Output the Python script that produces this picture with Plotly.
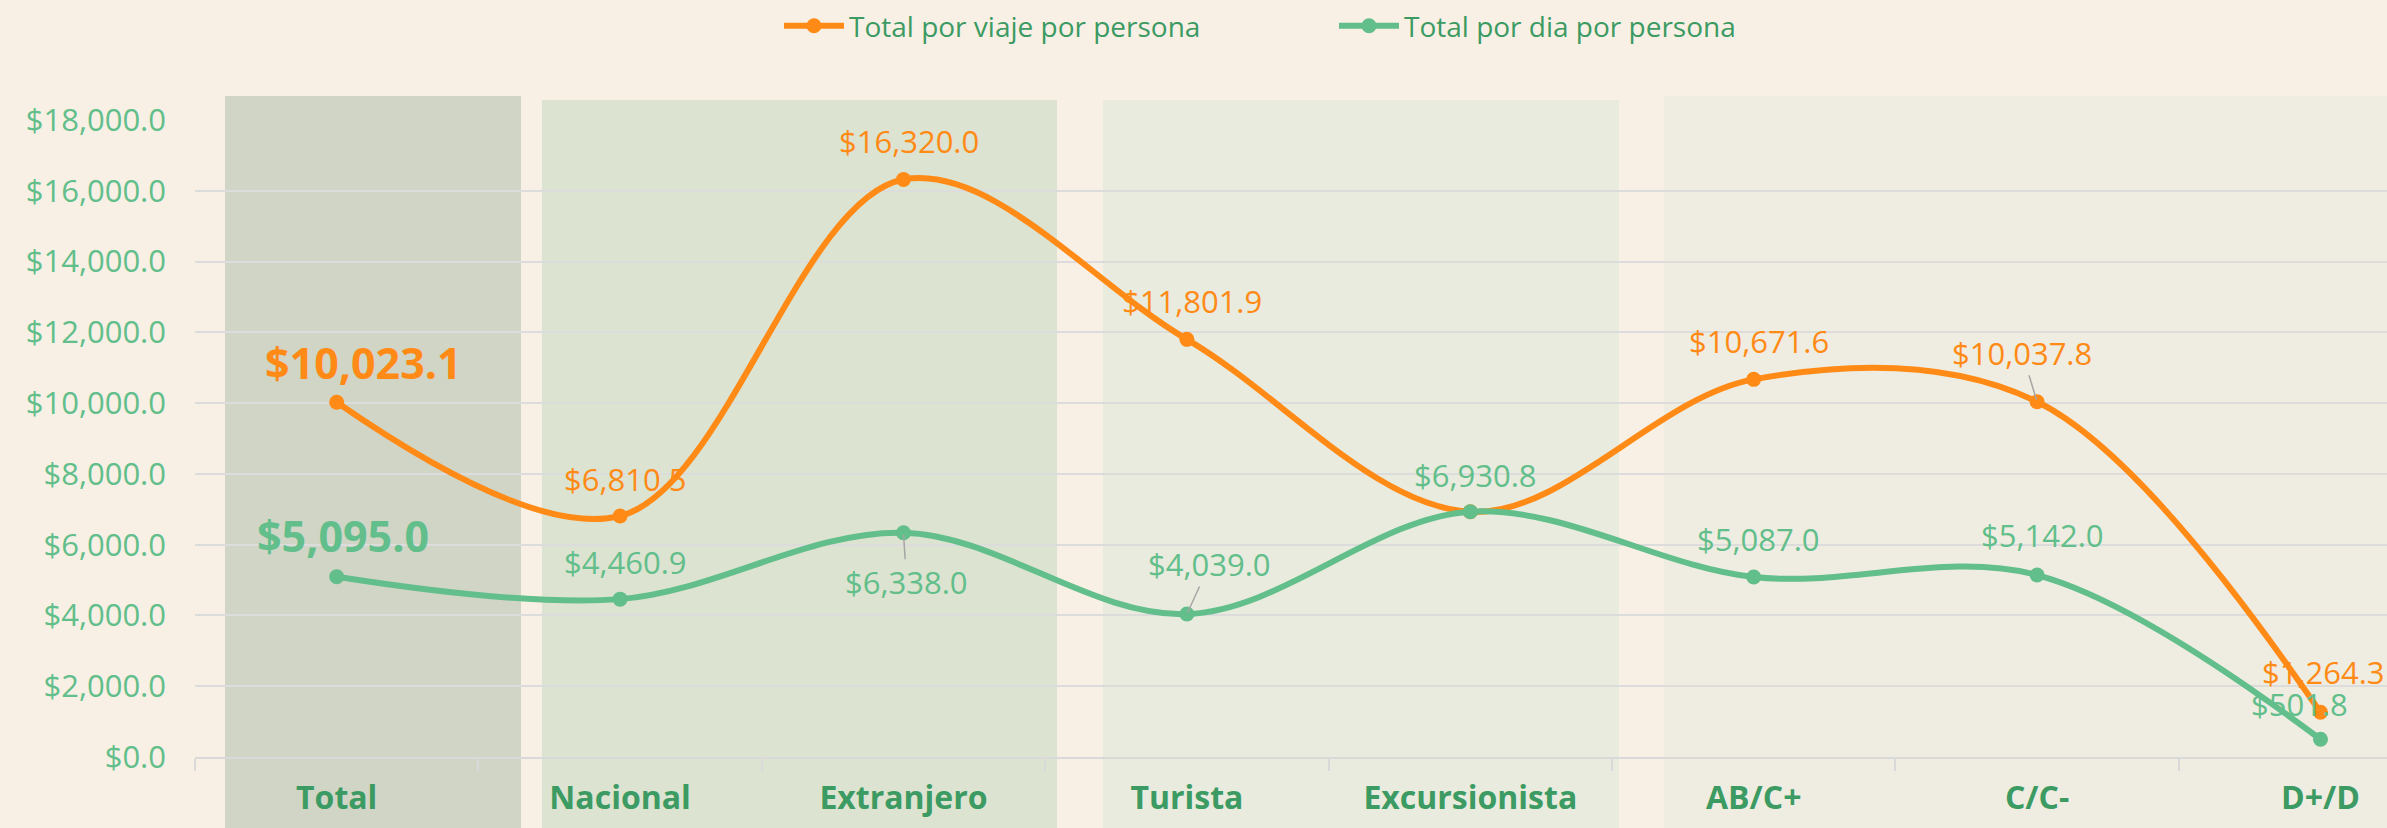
import plotly.graph_objects as go

categories = ["Total", "Nacional", "Extranjero", "Turista", "Excursionista", "AB/C+", "C/C-", "D+/D"]
viaje = [10023.1, 6810.5, 16320.0, 11801.9, 6930.8, 10671.6, 10037.8, 1264.3]
dia = [5095.0, 4460.9, 6338.0, 4039.0, 6930.8, 5087.0, 5142.0, 501.8]
y_ticks = [0, 2000, 4000, 6000, 8000, 10000, 12000, 14000, 16000, 18000]

# label offsets (px) and whether a leader line is drawn; None = no label
viaje_lbl = [(27, -40, False), (5, -37, False), (5, -38, False), (5, -38, False), None,
             (5, -38, False), (-15, -49, True), (3, -40, False)]
dia_lbl = [(6, -41, False), (5, -37, False), (3, 49, True), (23, -50, True), (5, -37, False),
           (5, -38, False), (5, -40, False), (-21, -35, False)]

ORANGE = "#FF8A16"
GREEN = "#62BE8A"
DARKGREEN = "#3C9A63"
BG = "#F8F0E5"
FONT = "Open Sans"

W, H = 2387, 828
ML, MR, MT, MB = 195, 0, 120, 71
cat_w = 283.4
x_end = -0.5 + (W - ML - MR) / cat_w

fig = go.Figure()
fig.add_trace(go.Scatter(x=categories, y=viaje, name="Total por viaje por persona",
                         mode="lines+markers", line=dict(color=ORANGE, width=6, shape="spline", smoothing=1.0),
                         marker=dict(color=ORANGE, size=15)))
fig.add_trace(go.Scatter(x=categories, y=dia, name="Total por dia por persona",
                         mode="lines+markers", line=dict(color=GREEN, width=6, shape="spline", smoothing=1.0),
                         marker=dict(color=GREEN, size=15)))

# background bands (paper-y so they extend above and below the plot)
plot_h = H - MT - MB
def py(px):
    return (H - MB - px) / plot_h
bands = [
    (225, 521, 96, "#D1D5C6"),
    (542, 1057, 100, "#DCE3D0"),
    (1103, 1619, 100, "#E8EBDD"),
    (1664, W, 96, "#EFEDE1"),
]
for x0, x1, top, col in bands:
    fig.add_shape(type="rect", xref="paper", yref="paper",
                  x0=(x0 - ML) / (W - ML - MR), x1=(x1 - ML) / (W - ML - MR),
                  y0=py(H + 5), y1=py(top), fillcolor=col, line=dict(width=0), layer="below")

annotations = []
def add_labels(vals, lbls, color):
    for i, (v, l) in enumerate(zip(vals, lbls)):
        if l is None:
            continue
        dx, dy, leader = l
        bold = i == 0
        txt = f"${v:,.1f}"
        if bold:
            txt = f"<b>{txt}</b>"
        annotations.append(dict(
            x=categories[i], y=v, xref="x", yref="y", text=txt,
            showarrow=True, ax=dx, ay=dy, axref="pixel", ayref="pixel",
            arrowhead=0, arrowwidth=1.5, standoff=2, startstandoff=0,
            arrowcolor="#A6A6A6" if leader else "rgba(0,0,0,0)",
            font=dict(family=FONT, size=43 if bold else 31, color=color),
        ))
add_labels(viaje, viaje_lbl, ORANGE)
add_labels(dia, dia_lbl, GREEN)

fig.update_layout(
    width=W, height=H,
    margin=dict(l=ML, r=MR, t=MT, b=MB),
    paper_bgcolor=BG, plot_bgcolor="rgba(0,0,0,0)",
    annotations=annotations,
    showlegend=True,
    legend=dict(orientation="h", x=(779 - ML) / (W - ML - MR), xanchor="left",
                y=py(1), yanchor="top", bgcolor="rgba(0,0,0,0)",
                font=dict(family=FONT, size=28, color=DARKGREEN),
                entrywidth=480, itemwidth=60),
    xaxis=dict(range=[-0.5, x_end], showgrid=False, ticks="outside", tickson="boundaries",
               ticklen=12, tickcolor="#D9D9D9", tickwidth=2,
               showline=True, linecolor="#D9D9D9", linewidth=2,
               tickfont=dict(family=FONT, size=32, color=DARKGREEN, weight="bold"),
               ticklabelstandoff=12, zeroline=False),
    yaxis=dict(range=[0, 18000], tickvals=y_ticks,
               ticktext=[f"${v:,.1f}" for v in y_ticks],
               showgrid=True, gridcolor="#DCDCDC", gridwidth=2, zeroline=False,
               tickfont=dict(family=FONT, size=31, color=GREEN),
               ticklabelstandoff=28, showline=False),
)

fig.write_html("out.html", config={"displayModeBar": False},
               post_script="document.body.style.margin='0';document.body.style.background='%s';" % BG)
